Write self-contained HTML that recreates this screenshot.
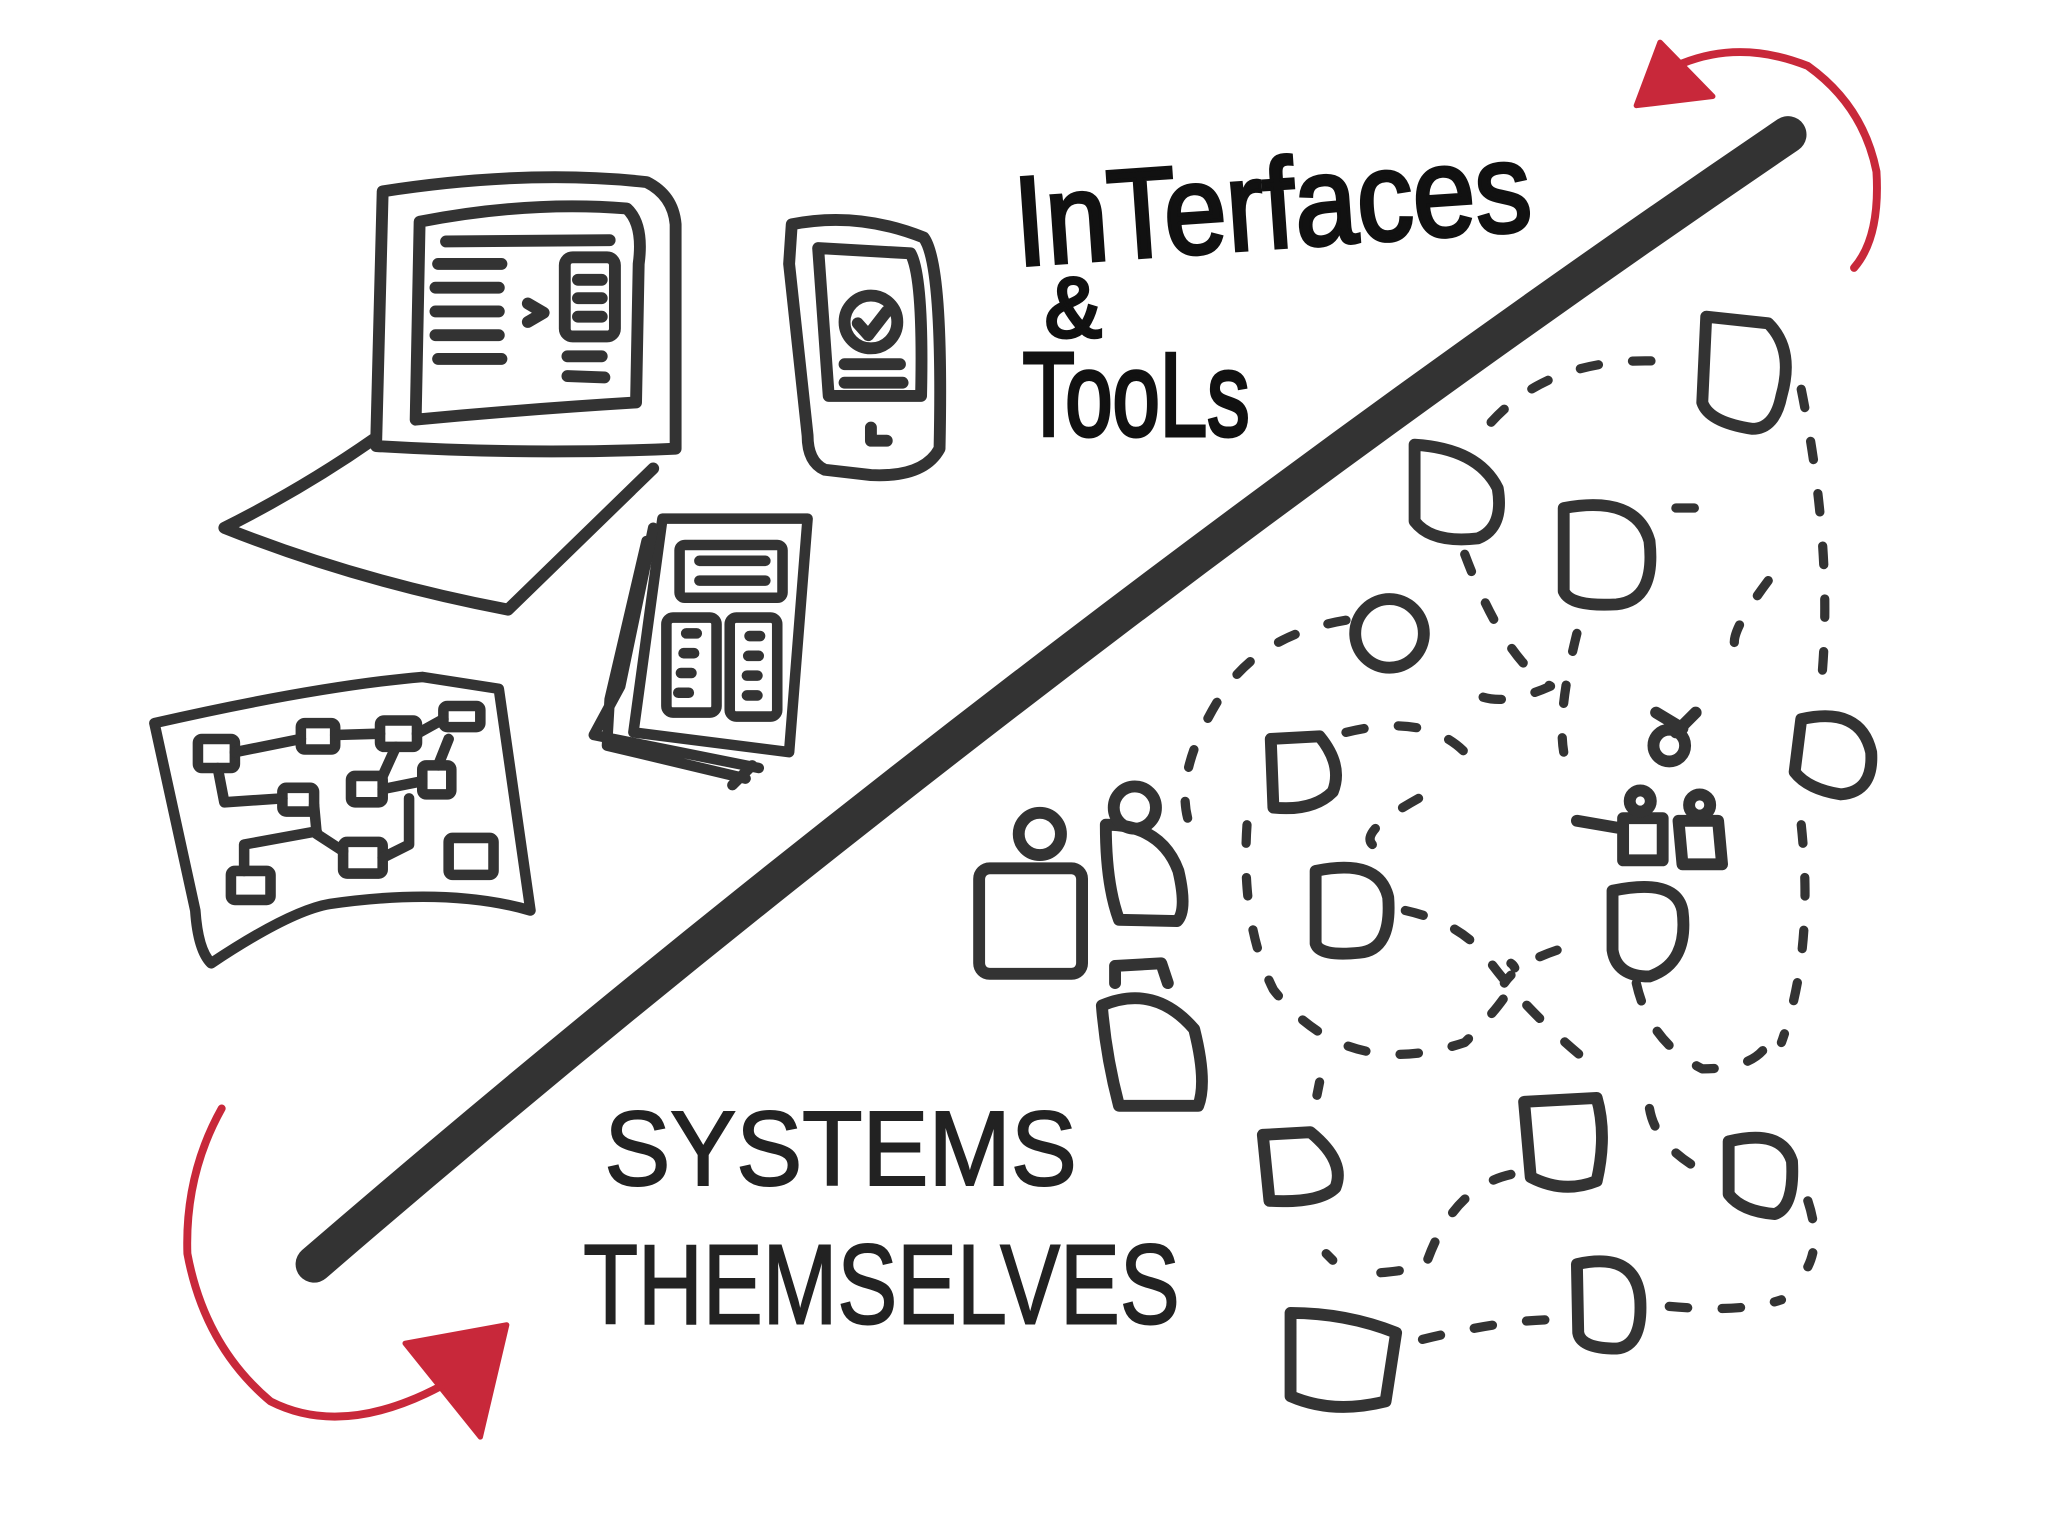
<!DOCTYPE html>
<html><head><meta charset="utf-8"><style>
html,body{margin:0;padding:0;background:#fff;width:2048px;height:1536px;overflow:hidden}
svg{display:block}
text{font-family:"Liberation Sans Narrow","Liberation Sans",sans-serif}
</style></head><body>
<svg width="2048" height="1536" viewBox="0 0 1552 1164" xmlns="http://www.w3.org/2000/svg">
<g fill="none" stroke="#333" stroke-linecap="round" stroke-linejoin="round">
<path d="M238,958 C560,680 960,370 1355,102" stroke-width="28"/>
<g stroke-width="9">
<path d="M290,145 Q400,128 490,138 Q510,148 512,170 L512,340 Q400,345 285,338 Z"/>
<path d="M318,168 Q400,152 475,158 Q488,170 484,200 L482,305 Q400,310 315,318 Z"/>
<path d="M283,333 Q230,370 170,400 Q270,440 385,462 L495,355"/>
<path d="M338,183 L462,182 M332,200 L380,200 M330,218 L378,218 M330,236 L378,236 M330,254 L378,254 M332,272 L380,272 M400,230 L412,237 L400,244"/>
<rect x="428" y="195" width="38" height="60" rx="6"/>
<path d="M438,212 L456,212 M438,226 L456,226 M438,240 L456,240 M430,270 L456,270 M430,285 L458,286"/>
</g>
<g stroke-width="9">
<path d="M600,170 Q650,160 700,180 Q715,200 712,340 Q700,362 660,360 L625,356 Q612,350 612,330 L598,200 Z"/>
<path d="M620,188 L690,192 Q700,210 698,300 L628,300 Z"/>
<circle cx="660" cy="244" r="20"/>
<path d="M650,245 L658,254 L672,236 M640,276 L682,276 M640,290 L684,290 M660,324 L660,334 L672,334"/>
</g>
<g stroke-width="8">
<path d="M502,393 L612,393 L598,570 L480,555 Z"/>
<path d="M495,400 L470,520 L450,557 L575,582 M490,410 L462,530 L460,565 L565,590 M570,580 L555,595"/>
<rect x="515" y="413" width="78" height="40" rx="4"/>
<path d="M530,425 L580,425 M530,440 L580,440"/>
<rect x="505" y="468" width="38" height="72" rx="5"/>
<rect x="553" y="468" width="36" height="75" rx="5"/>
<path d="M520,480 L528,480 M518,495 L526,495 M516,510 L524,510 M514,525 L522,525 M568,482 L576,482 M567,497 L575,497 M566,512 L574,512 M566,527 L574,527"/>
</g>
<g stroke-width="8">
<path d="M117,548 Q240,520 320,513 L378,522 L402,690 Q340,672 250,685 Q220,690 160,730 Q150,720 148,690 Z"/>
<rect x="150" y="560" width="28" height="22" rx="3"/>
<rect x="228" y="548" width="26" height="20" rx="3"/>
<rect x="288" y="546" width="28" height="20" rx="3"/>
<rect x="336" y="535" width="28" height="16" rx="3"/>
<rect x="214" y="597" width="24" height="18" rx="3"/>
<rect x="266" y="588" width="24" height="20" rx="3"/>
<rect x="320" y="580" width="22" height="22" rx="3"/>
<rect x="260" y="638" width="30" height="24" rx="3"/>
<rect x="340" y="635" width="34" height="28" rx="3"/>
<rect x="175" y="660" width="30" height="22" rx="3"/>
<path d="M178,570 L228,560 M254,557 L288,556 M316,556 L336,545 M165,582 L170,608 L214,605 M238,610 L240,632 L260,645 M290,598 L320,592 M300,566 L290,588 M340,560 L332,580 M310,605 L310,640 L290,650 M185,660 L185,640 L240,630"/>
</g>
<g stroke-width="9">
<rect x="742" y="658" width="78" height="80" rx="8"/>
<circle cx="788" cy="632" r="16"/>
<path d="M838,625 Q880,625 893,660 Q900,690 892,698 L848,697 Q838,670 838,625 Z"/>
<circle cx="860" cy="612" r="16"/>
<path d="M835,762 Q875,745 905,780 Q915,820 908,838 L848,838 Q838,800 835,762 Z"/>
<path d="M845,745 L845,732 L880,730 L885,745"/>
</g>
<g stroke-width="9">
<path d="M1293,240 L1340,245 Q1360,265 1350,300 Q1345,325 1328,325 Q1295,320 1290,305 Z"/>
<path d="M1072,337 Q1120,340 1135,370 Q1140,400 1120,408 Q1085,412 1072,395 Z"/>
<path d="M1185,385 Q1240,375 1250,410 Q1255,455 1225,458 Q1190,460 1185,448 Z"/>
<circle cx="1053" cy="480" r="26"/>
<path d="M963,560 L1000,558 Q1018,580 1010,600 Q995,615 965,612 Z"/>
<path d="M1365,545 Q1410,535 1418,570 Q1420,600 1395,602 Q1370,598 1360,585 Z"/>
<path d="M997,660 Q1045,650 1052,680 Q1055,720 1030,722 Q1000,725 997,715 Z"/>
<path d="M1222,675 Q1270,665 1275,690 Q1280,730 1250,740 Q1225,740 1222,720 Z"/>
<path d="M1155,835 L1210,832 Q1218,860 1210,895 Q1185,905 1160,892 Z"/>
<path d="M957,860 L993,858 Q1020,880 1012,900 Q1000,912 962,910 Z"/>
<path d="M1310,865 Q1350,855 1358,880 Q1360,915 1345,920 Q1320,918 1310,905 Z"/>
<path d="M1195,958 Q1240,948 1243,985 Q1245,1020 1225,1022 Q1198,1022 1196,1010 Z"/>
<path d="M978,995 Q1020,995 1058,1010 L1050,1062 Q1010,1072 978,1058 Z"/>
<circle cx="1265" cy="565" r="12"/><path d="M1255,540 L1275,552 M1285,540 L1270,555"/>
<path d="M1230,620 L1260,620 L1260,652 L1230,652 Z M1272,622 L1302,622 L1305,655 L1275,655 Z M1195,622 L1230,628"/>
<circle cx="1243" cy="607" r="8"/><circle cx="1288" cy="610" r="8"/>
</g>
<g stroke-width="7" stroke-dasharray="14 26">
<path d="M1130,320 Q1180,265 1275,275"/>
<path d="M1365,295 Q1390,420 1380,520"/>
<path d="M1365,625 Q1375,720 1350,790"/>
<path d="M1270,385 L1310,385 M1340,440 Q1310,480 1315,490"/>
<path d="M1110,420 Q1140,500 1175,520 Q1130,540 1110,520"/>
<path d="M1195,480 Q1180,540 1185,570"/>
<path d="M1020,470 Q960,480 930,520 Q890,580 900,620"/>
<path d="M1020,555 Q1080,540 1110,570"/>
<path d="M1075,605 Q1030,630 1040,640"/>
<path d="M945,625 Q940,700 965,750 Q1020,820 1110,790 Q1160,740 1145,730"/>
<path d="M1065,690 Q1110,700 1130,730 Q1160,770 1210,810"/>
<path d="M1180,720 Q1150,730 1140,745"/>
<path d="M1240,745 Q1250,790 1290,810 Q1330,810 1340,790"/>
<path d="M1000,820 L998,830 M1250,840 Q1255,870 1295,890"/>
<path d="M1145,890 Q1100,900 1080,960 Q1050,965 1035,965"/>
<path d="M1005,950 L1010,955 M1370,910 Q1380,940 1370,960"/>
<path d="M1078,1015 Q1140,1000 1180,1000 M1265,990 Q1320,995 1350,985"/>
</g>
<g stroke="#c8283a" stroke-width="6">
<path d="M1405,203 Q1425,180 1422,130 Q1412,80 1370,50 Q1320,30 1275,48"/>
<path d="M168,840 Q140,890 142,950 Q155,1020 205,1062 Q260,1090 335,1050"/>
</g>
</g>
<g fill="#c8283a" stroke="#c8283a" stroke-width="4" stroke-linejoin="round">
<path d="M1258,32 L1240,80 L1298,73 Z"/>
<path d="M307,1018 L384,1004 L364,1089 Z"/>
</g>
<g fill="#111" stroke="#111" stroke-width="3">
<text x="768" y="188" font-size="96" transform="rotate(-4 960 150)" textLength="392" lengthAdjust="spacingAndGlyphs">InTerfaces</text>
<text x="792" y="255" font-size="64">&amp;</text>
<text x="775" y="330" font-size="90" textLength="172" lengthAdjust="spacingAndGlyphs">TooLs</text>
</g>
<g fill="#222" stroke="#222" stroke-width="1.5">
<text x="458" y="898" font-size="80" textLength="358" lengthAdjust="spacingAndGlyphs">SYSTEMS</text>
<text x="442" y="1003" font-size="86" textLength="452" lengthAdjust="spacingAndGlyphs">THEMSELVES</text>
</g>
</svg>
</body></html>
